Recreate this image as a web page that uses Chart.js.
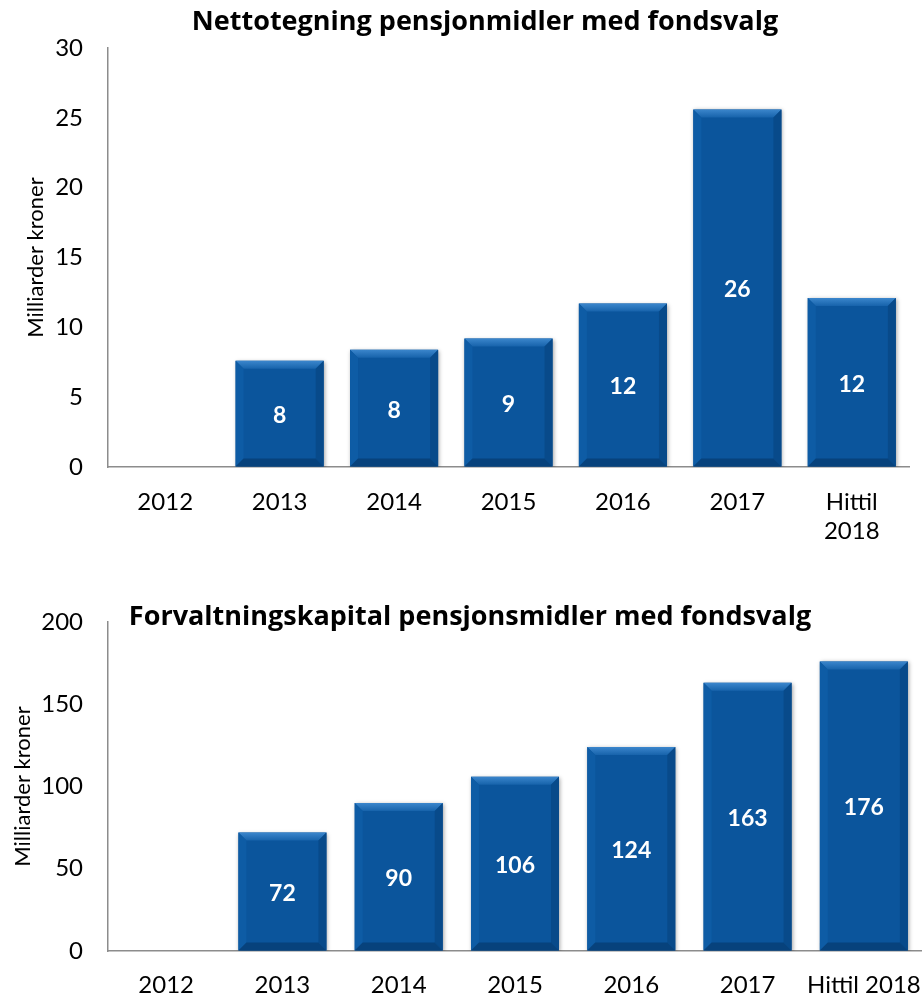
<!DOCTYPE html>
<html>
<head>
<meta charset="utf-8">
<script src="https://cdn.jsdelivr.net/npm/chart.js@4"></script>
<style>
  html, body { margin: 0; padding: 0; background: #fff; }
  canvas { display: block; }
</style>
</head>
<body>
<canvas id="topChart" width="922" height="580"></canvas>
<canvas id="bottomChart" width="922" height="418"></canvas>
<script>
// data
const years = ['2012', '2013', '2014', '2015', '2016', '2017', 'Hittil 2018'];
const netSubscription = [0, 7.6, 8.4, 9.2, 11.7, 25.6, 12.1];
const managedCapital = [0, 72, 90, 106, 124, 163, 176];
const netTicks = [0, 5, 10, 15, 20, 25, 30];
const capitalTicks = [0, 50, 100, 150, 200];

const FONT = 'Lato, Carlito, "Open Sans", sans-serif';
const TITLE_FONT = '"Open Sans", Lato, sans-serif';
const BAR = '#0B559C';

// bevelled bar look + value labels inside the bars
const bevelBars = {
  id: 'bevelBars',
  beforeDatasetsDraw(chart) {
    chart.ctx.save();
    chart.ctx.shadowColor = 'rgba(0,0,0,0.35)';
    chart.ctx.shadowBlur = 4;
    chart.ctx.shadowOffsetX = 1;
    chart.ctx.shadowOffsetY = 1;
  },
  afterDatasetsDraw(chart) {
    const ctx = chart.ctx;
    ctx.restore();
    const meta = chart.getDatasetMeta(0);
    const values = chart.data.datasets[0].data;
    meta.data.forEach((bar, i) => {
      if (!values[i]) return;
      const l = bar.x - bar.width / 2, r = bar.x + bar.width / 2;
      const t = bar.y, b = bar.base;
      const d = Math.min(8, (b - t) / 2);
      ctx.save();
      // top bevel
      let g = ctx.createLinearGradient(0, t, 0, t + d);
      g.addColorStop(0, '#3B86CC');
      g.addColorStop(1, '#1763AB');
      ctx.fillStyle = g;
      ctx.beginPath();
      ctx.moveTo(l, t); ctx.lineTo(r, t); ctx.lineTo(r - d, t + d); ctx.lineTo(l + d, t + d);
      ctx.closePath(); ctx.fill();
      // left bevel
      ctx.fillStyle = '#0E5CA5';
      ctx.beginPath();
      ctx.moveTo(l, t); ctx.lineTo(l + d, t + d); ctx.lineTo(l + d, b - d); ctx.lineTo(l, b);
      ctx.closePath(); ctx.fill();
      // right bevel
      ctx.fillStyle = '#084A8A';
      ctx.beginPath();
      ctx.moveTo(r, t); ctx.lineTo(r - d, t + d); ctx.lineTo(r - d, b - d); ctx.lineTo(r, b);
      ctx.closePath(); ctx.fill();
      // bottom bevel
      ctx.fillStyle = '#07427C';
      ctx.beginPath();
      ctx.moveTo(l, b); ctx.lineTo(l + d, b - d); ctx.lineTo(r - d, b - d); ctx.lineTo(r, b);
      ctx.closePath(); ctx.fill();
      // label
      ctx.fillStyle = '#fff';
      ctx.font = 'bold 23px ' + FONT;
      ctx.textAlign = 'center';
      ctx.textBaseline = 'middle';
      ctx.fillText(Math.round(values[i]), bar.x, (t + b) / 2 + 2);
      ctx.restore();
    });
  }
};

// chart title drawn at a fixed spot
const titleText = {
  id: 'titleText',
  afterDraw(chart, args, opts) {
    const ctx = chart.ctx;
    ctx.save();
    ctx.fillStyle = '#000';
    ctx.font = 'bold 27px ' + TITLE_FONT;
    ctx.textAlign = 'center';
    ctx.textBaseline = 'middle';
    ctx.fillText(opts.text, opts.x, opts.y);
    ctx.restore();
  }
};

function makeChart(id, labels, values, ticks, cfg) {
  return new Chart(document.getElementById(id), {
    type: 'bar',
    data: {
      labels: labels,
      datasets: [{
        data: values,
        backgroundColor: BAR,
        barPercentage: cfg.barPct,
        categoryPercentage: 1
      }]
    },
    options: {
      responsive: false,
      animation: false,
      events: [],
      layout: { padding: { top: cfg.top, right: cfg.right, left: 0, bottom: 0 } },
      plugins: {
        legend: { display: false },
        tooltip: { enabled: false },
        titleText: { text: cfg.title, x: cfg.titleX, y: cfg.titleY }
      },
      scales: {
        x: {
          offset: true,
          grid: { drawOnChartArea: false, drawTicks: false },
          border: { color: '#8C8C8C', width: 1.5 },
          ticks: { color: '#000', font: { family: FONT, size: 24 }, padding: cfg.xPad, maxRotation: 0, autoSkip: false },
          afterFit(scale) {
            scale.height = cfg.xHeight;
            scale.paddingLeft = 0;
            scale.paddingRight = 0;
          }
        },
        y: {
          min: 0,
          max: ticks[ticks.length - 1],
          afterBuildTicks(scale) { scale.ticks = ticks.map(v => ({ value: v })); },
          grid: { drawOnChartArea: false, drawTicks: false },
          border: { color: '#8C8C8C', width: 1.5 },
          ticks: { color: '#000', font: { family: FONT, size: 24 }, padding: 25 },
          title: {
            display: true,
            text: 'Milliarder kroner',
            color: '#000',
            font: { family: FONT, size: 22 },
            padding: { top: cfg.yTitlePad, bottom: 0 }
          },
          afterFit(scale) { scale.width = 108; }
        }
      }
    },
    plugins: [bevelBars, titleText]
  });
}

makeChart('topChart',
  years.map(y => y === 'Hittil 2018' ? ['Hittil', '2018'] : y),
  netSubscription, netTicks,
  { title: 'Nettotegning pensjonmidler med fondsvalg', titleX: 485, titleY: 22,
    top: 48, right: 13, xPad: 21, xHeight: 113, barPct: 0.77, yTitlePad: 23 });

makeChart('bottomChart', years, managedCapital, capitalTicks,
  { title: 'Forvaltningskapital pensjonsmidler med fondsvalg', titleX: 470, titleY: 37,
    top: 42, right: 0, xPad: 20, xHeight: 47, barPct: 0.757, yTitlePad: 10 });
</script>
</body>
</html>
